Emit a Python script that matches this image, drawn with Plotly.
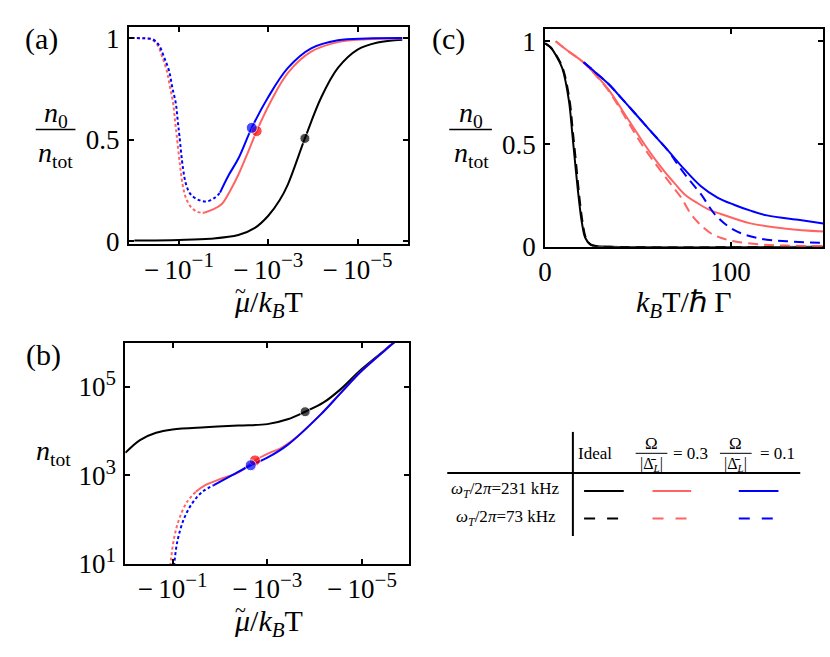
import plotly.graph_objects as go

W, H = 830, 657

# ---------------------------------------------------------------------------
# data
# panels (a) and (b): x is log10 of |mu~ / k_B T| (the axis is -10^x)
# ---------------------------------------------------------------------------

# (a) condensate fraction n0/ntot
A_BLACK_LGMU = [0.0, -1.0, -1.7, -2.33, -2.7, -3.0, -3.25, -3.44, -3.82, -4.19, -4.56, -5.0, -5.45, -6.0]
A_BLACK_N0 = [0.003, 0.006, 0.012, 0.03, 0.065, 0.125, 0.2, 0.28, 0.506, 0.71, 0.853, 0.943, 0.978, 0.992]

A_RED_DOT_LGMU = [0.07, -0.2, -0.38, -0.52, -0.63, -0.73, -0.8, -0.87, -0.91, -0.95, -1.02, -1.08,
                  -1.16, -1.28, -1.4, -1.5, -1.58]
A_RED_DOT_N0 = [1.0, 0.999, 0.994, 0.965, 0.904, 0.837, 0.757, 0.678, 0.598, 0.518, 0.38, 0.28,
                0.21, 0.165, 0.146, 0.14, 0.141]
A_RED_LGMU = [-1.58, -1.75, -1.96, -2.15, -2.33, -2.55, -2.74, -3.07, -3.44, -3.96, -4.56, -5.2, -6.0]
A_RED_N0 = [0.141, 0.155, 0.183, 0.25, 0.327, 0.44, 0.542, 0.694, 0.829, 0.933, 0.98, 0.994, 0.998]

A_BLUE_DOT_LGMU = [0.07, -0.2, -0.41, -0.55, -0.67, -0.78, -0.85, -0.93, -0.97, -1.01, -1.09, -1.16,
                   -1.26, -1.45, -1.63, -1.81, -1.92]
A_BLUE_DOT_N0 = [1.0, 0.999, 0.994, 0.965, 0.904, 0.837, 0.757, 0.678, 0.598, 0.518, 0.359, 0.279,
                 0.231, 0.202, 0.196, 0.215, 0.239]
A_BLUE_LGMU = [-1.92, -2.1, -2.33, -2.63, -3.0, -3.44, -3.96, -4.56, -5.2, -6.0]
A_BLUE_N0 = [0.239, 0.32, 0.407, 0.558, 0.71, 0.853, 0.949, 0.989, 0.998, 1.0]

# critical points (black, red, blue)
A_CRIT_LGMU = [-3.82, -2.74, -2.63]
A_CRIT_N0 = [0.506, 0.542, 0.558]

# (b) total atom number, log10(ntot)
B_BLACK_LGMU = [0.0, -0.31, -0.65, -1.0, -1.69, -2.39, -3.0, -3.43, -3.8, -4.19, -4.54, -4.99, -5.65, -5.72]
B_BLACK_LGN = [3.51, 3.8, 3.965, 4.04, 4.09, 4.127, 4.16, 4.27, 4.44, 4.65, 4.94, 5.4, 5.98, 6.05]

B_RED_DOT_LGMU = [-0.95, -1.03, -1.14, -1.31, -1.49]
B_RED_DOT_LGN = [0.95, 1.58, 2.02, 2.41, 2.63]
B_RED_LGMU = [-1.49, -1.69, -2.04, -2.39, -2.74, -3.07, -3.29, -3.6, -4.13, -4.54, -4.99, -5.65, -5.72]
B_RED_LGN = [2.63, 2.78, 2.93, 3.07, 3.34, 3.52, 3.62, 3.85, 4.38, 4.85, 5.36, 5.98, 6.05]

B_BLUE_DOT_LGMU = [-1.03, -1.1, -1.24, -1.42, -1.63, -1.87]
B_BLUE_DOT_LGN = [0.95, 1.51, 2.02, 2.38, 2.63, 2.78]
B_BLUE_LGMU = [-1.87, -2.25, -2.65, -3.0, -3.43, -4.13, -4.54, -4.99, -5.65, -5.72]
B_BLUE_LGN = [2.78, 3.0, 3.23, 3.4, 3.69, 4.38, 4.85, 5.36, 5.98, 6.05]

B_CRIT_LGMU = [-3.8, -2.74, -2.65]
B_CRIT_LGN = [4.44, 3.34, 3.23]

# (c) n0/ntot against k_B T / hbar Gamma
C_BLACK_T = [0, 3, 5.7, 9.2, 12.8, 14.6, 16.3, 18.1, 19.9, 21.7, 24.4, 28, 35, 150]
C_BLACK_N0 = [0.99, 0.97, 0.934, 0.87, 0.713, 0.556, 0.397, 0.24, 0.114, 0.043, 0.011, 0.003, 0.0, 0.0]
C_BLACK_DASH_T = [0, 3, 5.9, 9.5, 13.2, 15.0, 16.8, 18.5, 20.3, 22.0, 24.7, 28, 35, 150]
C_BLACK_DASH_N0 = [0.99, 0.97, 0.934, 0.87, 0.713, 0.556, 0.397, 0.24, 0.114, 0.043, 0.011, 0.003, 0.0, 0.0]

C_RED_T = [5.7, 12, 19.9, 27, 34.2, 44.9, 52, 59, 64.4, 69.7, 75.1, 82.2, 89.3, 94.7, 110.7, 130.3, 150]
C_RED_N0 = [1.0, 0.955, 0.903, 0.84, 0.765, 0.618, 0.52, 0.429, 0.366, 0.31, 0.256, 0.212, 0.177,
            0.16, 0.114, 0.088, 0.074]
C_RED_DASH_T = [5.7, 12, 19.9, 27, 34.2, 44.9, 52, 59, 64.4, 69, 73.3, 78.6, 84, 89.3, 95, 101.8,
                115, 130, 150]
C_RED_DASH_N0 = [1.0, 0.955, 0.903, 0.838, 0.76, 0.605, 0.5, 0.41, 0.345, 0.29, 0.24, 0.16, 0.105,
                 0.066, 0.043, 0.027, 0.012, 0.006, 0.004]

C_BLUE_T = [20.8, 27, 34.2, 41, 48.4, 57, 66.2, 75, 84, 92.9, 101.8, 110.7, 119.6, 137.4, 150]
C_BLUE_N0 = [0.898, 0.85, 0.792, 0.725, 0.65, 0.562, 0.469, 0.378, 0.295, 0.24, 0.205, 0.176, 0.153,
             0.13, 0.114]
C_BLUE_DASH_T = [20.8, 27, 34.2, 41, 48.4, 57, 66.2, 71.5, 76.9, 84, 92, 101.8, 114.3, 130.3, 150]
C_BLUE_DASH_N0 = [0.898, 0.85, 0.792, 0.725, 0.65, 0.562, 0.469, 0.4, 0.335, 0.256, 0.153, 0.082,
                  0.043, 0.027, 0.019]

MU_TICKS = [1e-1, 1e-3, 1e-5]
MU_EXPONENTS = ["\u22121", "\u22123", "\u22125"]
N_TICKS = [1e1, 1e3, 1e5]
N_EXPONENTS = ["1", "3", "5"]

BLACK = "#000000"
RED = "#FF6464"
RED_DOT = "#FF0000"
BLUE = "#0000FF"
FONT = "Liberation Serif"
DOTTED = "3px,2.5px"
DASHED = "10px,6px"
SUP = "<sup><span style='font-size:21px'>{}</span></sup>"


def px(x):
    return x / W


def py(y):
    return 1 - y / H


def pw(vals):
    return [10 ** v for v in vals]


def line(fig, x, y, color, ax, dash="solid"):
    fig.add_trace(go.Scatter(x=x, y=y, mode="lines", line=dict(color=color, width=2, dash=dash,
                                                               shape="spline", smoothing=1.0),
                             xaxis=ax[0], yaxis=ax[1], showlegend=False, hoverinfo="skip"))


mu_ticktext = ["\u2212\u200910" + SUP.format(e) for e in MU_EXPONENTS]
n_ticktext = ["10" + SUP.format(e) for e in N_EXPONENTS]

fig = go.Figure()

# ---- panel (a)
ax_a = ("x", "y")
line(fig, pw(A_BLACK_LGMU), A_BLACK_N0, BLACK, ax_a)
line(fig, pw(A_RED_DOT_LGMU), A_RED_DOT_N0, RED, ax_a, DOTTED)
line(fig, pw(A_RED_LGMU), A_RED_N0, RED, ax_a)
line(fig, pw(A_BLUE_DOT_LGMU), A_BLUE_DOT_N0, BLUE, ax_a, DOTTED)
line(fig, pw(A_BLUE_LGMU), A_BLUE_N0, BLUE, ax_a)
fig.add_trace(go.Scatter(x=pw(A_CRIT_LGMU), y=A_CRIT_N0, mode="markers",
                         marker=dict(size=[10, 11, 11], color=[BLACK, RED_DOT, BLUE]),
                         xaxis="x", yaxis="y", showlegend=False))

# ---- panel (c)
ax_c = ("x2", "y2")
line(fig, C_BLACK_DASH_T, C_BLACK_DASH_N0, BLACK, ax_c, DASHED)
line(fig, C_BLACK_T, C_BLACK_N0, BLACK, ax_c)
line(fig, C_RED_DASH_T, C_RED_DASH_N0, RED, ax_c, DASHED)
line(fig, C_RED_T, C_RED_N0, RED, ax_c)
line(fig, C_BLUE_DASH_T, C_BLUE_DASH_N0, BLUE, ax_c, DASHED)
line(fig, C_BLUE_T, C_BLUE_N0, BLUE, ax_c)

# ---- panel (b)
ax_b = ("x3", "y3")
line(fig, pw(B_BLACK_LGMU), pw(B_BLACK_LGN), BLACK, ax_b)
line(fig, pw(B_RED_DOT_LGMU), pw(B_RED_DOT_LGN), RED, ax_b, DOTTED)
line(fig, pw(B_RED_LGMU), pw(B_RED_LGN), RED, ax_b)
line(fig, pw(B_BLUE_DOT_LGMU), pw(B_BLUE_DOT_LGN), BLUE, ax_b, DOTTED)
line(fig, pw(B_BLUE_LGMU), pw(B_BLUE_LGN), BLUE, ax_b)
fig.add_trace(go.Scatter(x=pw(B_CRIT_LGMU), y=pw(B_CRIT_LGN), mode="markers",
                         marker=dict(size=[10, 11, 11], color=[BLACK, RED_DOT, BLUE]),
                         xaxis="x3", yaxis="y3", showlegend=False))

frame = dict(showline=True, linecolor="black", linewidth=2, mirror="ticks", ticks="inside",
             ticklen=5, tickwidth=2, tickcolor="black", showgrid=False, zeroline=False,
             tickfont=dict(family=FONT, size=27, color="black"))

fig.update_layout(
    width=W, height=H, margin=dict(l=0, r=0, t=0, b=0),
    paper_bgcolor="white", plot_bgcolor="white",
    xaxis=dict(frame, domain=[px(123), px(404)], type="log", range=[0.12, -6.12],
               tickvals=MU_TICKS, ticktext=mu_ticktext, anchor="y"),
    yaxis=dict(frame, domain=[py(248), py(25)], range=[-0.015, 1.053],
               tickvals=[0, 0.5, 1], ticktext=["0", "0.5", "1"], anchor="x", ticklabelstandoff=2),
    xaxis2=dict(frame, domain=[px(542.7), px(823.3)], range=[0, 150],
                tickvals=[0, 100], anchor="y2"),
    yaxis2=dict(frame, domain=[py(250.7), py(26.7)], range=[0, 1.06],
                tickvals=[0, 0.5, 1], ticktext=["0", "0.5", "1"], anchor="x2", ticklabelstandoff=2),
    xaxis3=dict(frame, domain=[px(119.3), px(405.7)], type="log", range=[0.0, -6.0],
                tickvals=MU_TICKS, ticktext=mu_ticktext, anchor="y3"),
    yaxis3=dict(frame, domain=[py(576.7), py(349.3)], type="log", range=[1, 6],
                tickvals=N_TICKS, ticktext=n_ticktext, anchor="x3", ticklabelstandoff=2),
)

annotations = []
shapes = []


def text(x, y, s, size=26):
    annotations.append(dict(x=px(x), y=py(y), xref="paper", yref="paper", text=s, showarrow=False,
                            xanchor="center", yanchor="middle",
                            font=dict(family=FONT, size=size, color="black")))


def seg(x0, x1, y, color="black", width=2, dash="solid"):
    shapes.append(dict(type="line", xref="paper", yref="paper", x0=px(x0), x1=px(x1),
                       y0=py(y), y1=py(y), line=dict(color=color, width=width, dash=dash)))


# panel labels
text(35, 37, "(a)", 30)
text(445, 37, "(c)", 30)
text(37, 362, "(b)", 30)

# axis titles (the tilde over mu is set on its own)
mu_title = "<i>\u03bc</i>/<i>k</i><sub><i>B</i></sub>T"
text(264, 309, mu_title, 30)
text(235, 296, "~", 20)
text(264, 637, mu_title, 30)
text(235, 624, "~", 20)
text(683, 309, "<i>k</i><sub><i>B</i></sub>T/\u210f \u0393", 30)

# n0/ntot fractions
for cx, x0, x1 in [(49, 29, 69), (468, 446, 489)]:
    text(cx, 115, "<i>n</i><sub>0</sub>", 28)
    seg(x0, x1, 130, width=1.5)
    text(cx, 156, "<i>n</i><sub>tot</sub>", 28)
text(47, 462, "<i>n</i><sub>tot</sub>", 28)

# legend table
shapes.append(dict(type="line", xref="paper", yref="paper", x0=px(570.7), x1=px(570.7),
                   y0=py(441), y1=py(548), line=dict(color="black", width=2)))
seg(444, 800, 483.3)
text(593, 463, "Ideal", 17)
for cx, x0, x1, val, vx in [(650, 634, 666, "= 0.3", 689), (735, 719, 751, "= 0.1", 777)]:
    text(cx, 453, "\u03a9", 17)
    seg(x0, x1, 463, width=1)
    text(cx, 474, "|\u0394\u0304<sub><i>L</i></sub>|", 16)
    text(vx, 463, val, 17)
text(503, 501, "<i>\u03c9<sub>T</sub></i>/2<i>\u03c0</i>=231 kHz", 17)
text(503, 530, "<i>\u03c9<sub>T</sub></i>/2<i>\u03c0</i>=73 kHz", 17)
for x0, x1, color in [(582, 622, BLACK), (651, 690, RED), (738, 778, BLUE)]:
    seg(x0, x1, 501.7, color)
    seg(x0, x1 - 4, 530, color, dash="11px,12px")

fig.update_layout(annotations=annotations, shapes=shapes)

# the default page body has an 8px margin, drop it so the figure sits at the window corner
fig.write_html("out.html", config={"displayModeBar": False},
               post_script="document.body.style.margin = '0';")
